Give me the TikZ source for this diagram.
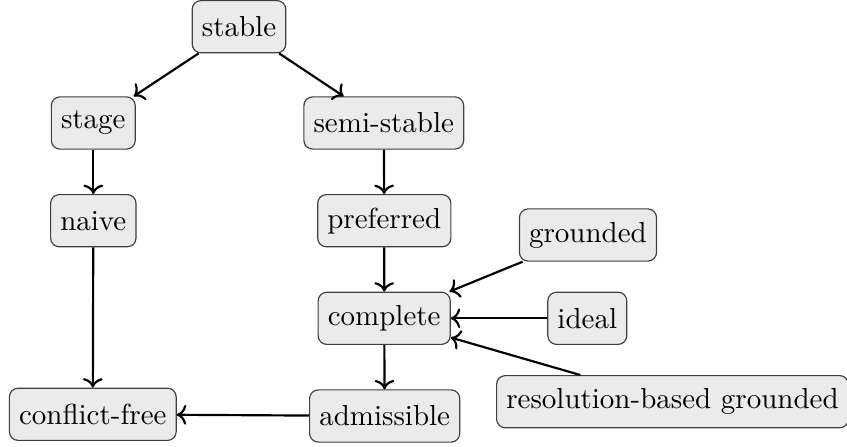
\documentclass[tikz,border=0pt]{standalone}
\usetikzlibrary{arrows.meta}

\tikzset{
  sem/.style={draw=black!75, fill=black!8, rounded corners=3pt,
              minimum height=18pt, inner xsep=0.3333em, line width=0.4pt},
  rel/.style={->, line width=0.75pt}
}

\begin{document}
\begin{tikzpicture}[x=0.3448pt, y=-0.3448pt]
  \useasboundingbox (0,0) rectangle (847,447);

  % semantics
  \node[sem] (stable)     at (239,26.7)    {stable};
  \node[sem] (stage)      at (93.3,123)    {stage};
  \node[sem] (semistable) at (383.8,123)   {semi-stable};
  \node[sem] (naive)      at (93.3,220.7)  {naive};
  \node[sem] (preferred)  at (384.3,220.7) {preferred};
  \node[sem] (grounded)   at (588,235)     {grounded};
  \node[sem] (complete)   at (384.2,318.3) {complete};
  \node[sem] (ideal)      at (587.3,318.3) {ideal};
  \node[sem] (resgr)      at (672.5,401.7) {resolution-based grounded};
  \node[sem] (cf)         at (92.8,414.3)  {conflict-free};
  \node[sem] (adm)        at (384.7,416)   {admissible};

  % inclusions
  \draw[rel] (stable) -- (stage);
  \draw[rel] (stable) -- (semistable);
  \draw[rel] (stage) -- (naive);
  \draw[rel] (semistable) -- (preferred);
  \draw[rel] (naive) -- (cf);
  \draw[rel] (preferred) -- (complete);
  \draw[rel] (grounded) -- (complete);
  \draw[rel] (ideal) -- (complete);
  \draw[rel] (resgr) -- (complete);
  \draw[rel] (complete) -- (adm);
  \draw[rel] (adm) -- (cf);
\end{tikzpicture}
\end{document}
